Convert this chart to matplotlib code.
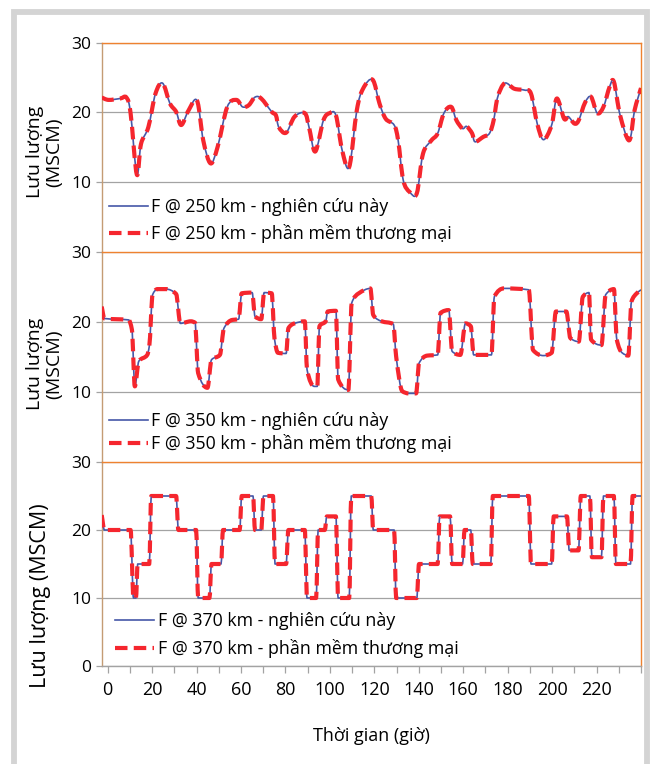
import matplotlib
matplotlib.use("Agg")
import matplotlib.pyplot as plt
from matplotlib.patches import Rectangle, PathPatch
from matplotlib.path import Path
from matplotlib.lines import Line2D

plt.rcParams['font.family'] = ['Open Sans', 'DejaVu Sans']

# ---------------- data ----------------
hours_250 = [-2.7, 0.4, 5.6, 8.4, 10.3, 13.1, 15.0, 18.3, 21.5, 24.7, 28.0, 30.8, 33.1,
             36.4, 40.2, 43.0, 46.3, 49.5, 53.8, 57.9, 60.7, 63.5, 66.3, 69.1, 73.8,
             75.7, 77.0, 80.3, 84.1, 88.7, 90.6, 93.4, 97.1, 99.9, 102.7, 105.5, 108.7,
             112.1, 114.9, 119.2, 122.3, 125.1, 128.9, 130.7, 133.0, 135.9, 139.1, 141.9,
             145.7, 148.5, 151.3, 154.6, 156.9, 159.7, 161.5, 164.0, 165.3, 169.0, 171.8,
             173.7, 175.5, 178.7, 183.0, 187.7, 190.5, 193.3, 196.1, 199.8, 202.1, 205.4,
             207.3, 210.1, 212.0, 214.8, 217.5, 220.3, 223.1, 225.9, 227.8, 230.6, 234.7,
             237.1, 240.0]
flow_250 = [22.15, 21.8, 22.0, 22.15, 19.9, 11.1, 15.5, 17.9, 22.7, 24.2, 21.3, 20.1, 18.2,
            20.3, 21.7, 16.0, 12.7, 15.1, 20.8, 21.8, 20.8, 21.05, 22.2, 22.0, 20.1,
            19.6, 17.9, 17.1, 19.4, 19.9, 17.9, 14.4, 18.9, 19.9, 19.6, 14.6, 12.2,
            20.3, 23.4, 24.7, 21.3, 19.1, 18.2, 16.0, 10.3, 8.6, 8.4, 14.1,
            16.0, 17.0, 19.9, 20.8, 18.9, 17.7, 18.0, 17.0, 15.8, 16.5, 17.0,
            18.9, 22.2, 24.2, 23.4, 23.2, 22.7, 18.4, 16.1, 18.2, 22.0, 19.1,
            19.4, 18.4, 18.9, 21.4, 22.25, 19.9, 20.8, 23.7, 24.4, 19.6, 16.0,
            20.3, 23.5]

hours_350 = [-2.7, -1.5, 3.8, 9.4, 10.9, 12.2, 14.0, 17.8, 18.7, 20.2, 22.4, 26.2, 30.8,
             32.7, 37.4, 39.3, 40.7, 44.9, 46.7, 50.5, 52.3, 56.1, 58.9, 60.3, 65.0, 66.3,
             69.1, 70.4, 73.8, 75.1, 76.6, 80.3, 81.3, 84.1, 88.7, 89.7, 93.0, 94.3, 95.3,
             98.1, 99.0, 102.7, 103.7, 108.3, 109.8, 113.0, 118.2, 119.5, 123.3, 128.5,
             129.8, 132.6, 135.4, 138.8, 140.1, 143.8, 148.5, 149.8, 153.5, 155.0, 158.7,
             161.0, 163.4, 164.7, 172.7, 174.0, 178.3, 189.5, 191.4, 196.1, 199.8, 201.7,
             206.4, 208.2, 212.0, 213.8, 216.6, 217.5, 222.2, 224.1, 227.8, 229.1, 231.5,
             234.3, 235.7, 238.1, 240.0]
flow_350 = [22.2, 20.5, 20.4, 20.3, 18.9, 10.8, 14.4, 15.3, 16.5, 23.9, 24.7, 24.7, 24.0,
            19.8, 20.1, 19.9, 12.7, 10.6, 14.6, 15.3, 19.1, 20.3, 20.4, 24.1, 24.2, 20.8,
            20.4, 24.2, 24.1, 17.5, 15.6, 15.5, 19.1, 19.8, 20.1, 13.2, 10.8, 10.8, 19.4,
            20.1, 21.5, 21.6, 11.8, 10.3, 22.7, 24.1, 24.8, 21.0, 20.1, 19.7,
            15.1, 10.1, 9.8, 9.8, 14.1, 15.2, 15.3, 21.3, 21.7, 15.8, 15.3,
            19.8, 19.4, 15.3, 15.3, 23.6, 24.8, 24.6, 16.0, 15.2, 15.6, 21.5,
            21.5, 17.7, 17.2, 23.6, 24.2, 17.5, 16.7, 23.9, 24.7, 17.5, 15.6,
            15.2, 22.9, 24.1, 24.6]

hours_370 = [-2.7, -1.5, 10.3, 11.6, 12.7, 13.5, 18.7, 19.6, 30.8, 31.8, 39.8, 40.7, 45.8,
             46.7, 51.0, 51.9, 59.4, 60.3, 65.4, 66.3, 69.1, 70.1, 74.4, 75.3, 80.3, 81.3,
             88.7, 89.7, 93.8, 94.7, 97.7, 98.6, 102.7, 103.7, 108.7, 109.6, 118.6, 119.5,
             128.9, 129.8, 139.1, 140.1, 148.5, 149.4, 154.1, 155.0, 159.7, 160.6, 163.4,
             164.3, 172.4, 173.3, 189.5, 190.5, 199.8, 200.7, 206.7, 207.7, 211.9, 212.9,
             217.0, 217.9, 222.2, 223.1, 227.8, 228.7, 235.3, 236.2, 240.0]
flow_370 = [22.2, 20, 20, 10, 10, 15, 15, 25, 25, 20, 20, 10, 10,
            15, 15, 20, 20, 25, 25, 20, 20, 25, 25, 15, 15, 20,
            20, 10, 10, 20, 20, 22, 22, 10, 10, 25, 25, 20,
            20, 10, 10, 15, 15, 22, 22, 15, 15, 20, 20,
            15, 15, 25, 25, 15, 15, 22, 22, 17, 17, 25,
            25, 16, 16, 25, 25, 15, 15, 25, 25]

series_hours = [hours_250, hours_350, hours_370]
series_flow = [flow_250, flow_350, flow_370]
smoothing = ["catmull", "monotone", "monotone"]   # Excel "smoothed line" look
labels_study = ["F @ 250 km - nghiên cứu này", "F @ 350 km - nghiên cứu này",
                "F @ 370 km - nghiên cứu này"]
labels_software = ["F @ 250 km - phần mềm thương mại", "F @ 350 km - phần mềm thương mại",
                   "F @ 370 km - phần mềm thương mại"]
ylabels = ["Lưu lượng\n(MSCM)", "Lưu lượng\n(MSCM)", "Lưu lượng (MSCM)"]
xlabel = "Thời gian (giờ)"
ytick_values = [[10, 20, 30], [10, 20, 30], [0, 10, 20, 30]]
xtick_values = list(range(0, 241, 10))
xtick_labels = [str(v) if (v % 20 == 0 and v <= 220) else "" for v in xtick_values]


def bezier_path(xs, ys, kind):
    """Cubic Bezier path through the data points (rendering style only)."""
    n = len(xs)
    if kind == "monotone":
        h = [xs[k + 1] - xs[k] for k in range(n - 1)]
        d = [(ys[k + 1] - ys[k]) / h[k] for k in range(n - 1)]
        m = [d[0]] + [0.0] * (n - 2) + [d[-1]]
        for k in range(1, n - 1):
            if d[k - 1] * d[k] > 0:
                w1, w2 = 2 * h[k] + h[k - 1], h[k] + 2 * h[k - 1]
                m[k] = (w1 + w2) / (w1 / d[k - 1] + w2 / d[k])
    verts = [(xs[0], ys[0])]
    codes = [Path.MOVETO]
    for k in range(n - 1):
        x1, y1, x2, y2 = xs[k], ys[k], xs[k + 1], ys[k + 1]
        if kind == "monotone":
            hk = x2 - x1
            c1 = (x1 + hk / 3, y1 + m[k] * hk / 3)
            c2 = (x2 - hk / 3, y2 - m[k + 1] * hk / 3)
        else:
            x0, y0 = xs[max(k - 1, 0)], ys[max(k - 1, 0)]
            x3, y3 = xs[min(k + 2, n - 1)], ys[min(k + 2, n - 1)]
            c1 = (x1 + (x2 - x0) / 6, y1 + (y2 - y0) / 6)
            c2 = (x2 - (x3 - x1) / 6, y2 - (y3 - y1) / 6)
        verts += [c1, c2, (x2, y2)]
        codes += [Path.CURVE4] * 3
    return Path(verts, codes)


# ---------------- style ----------------
W, H = 650, 764
BLUE = "#4658A8"
RED = "#F5262E"
ORANGE = "#EE8230"
TAN = "#C49C74"
GRAY = "#A3A3A3"
BLUE_LW, RED_LW = 1.2, 3.0
RED_LS = (0, (3.0, 1.5))

fig = plt.figure(figsize=(W / 100, H / 100), dpi=100)
fig.patch.set_facecolor("white")
fig.patches.append(Rectangle((13.5 / W, -0.1), (646.5 - 13.5) / W, 1.1 - 12 / H,
                             transform=fig.transFigure, fill=False,
                             edgecolor="#D4D4D4", linewidth=4.2, zorder=0))

panels_px = [(101.7, 42.7, 641, 252), (101.7, 252, 641, 462), (101.7, 462, 641, 666)]
legend_anchor = [(0.0128, 0.149), (0.0128, 0.1405), (0.025, 0.152)]
legend_spacing = [0.45, 0.22, 0.5]
# right edge (x) and centre (y) of each y label, in pixels
ylabel_pos = [(63, 152), (63, 364), (51, 596)]
ylabel_size = [14, 14, 15.5]

for i, (l, t, r, b) in enumerate(panels_px):
    ax = fig.add_axes([l / W, 1 - b / H, (r - l) / W, (b - t) / H])
    ax.set_facecolor("none")
    p = bezier_path(series_hours[i], series_flow[i], smoothing[i])
    ax.add_patch(PathPatch(p, fill=False, edgecolor=BLUE, lw=BLUE_LW, zorder=3,
                           capstyle="butt", joinstyle="round"))
    ax.add_patch(PathPatch(p, fill=False, edgecolor=RED, lw=RED_LW, linestyle=RED_LS,
                           zorder=4, capstyle="butt", joinstyle="round"))
    h_study = Line2D([], [], color=BLUE, lw=BLUE_LW)
    h_soft = Line2D([], [], color=RED, lw=RED_LW, linestyle=RED_LS)
    ax.set_xlim(-2.7, 240)
    ax.set_ylim(0, 30)
    ax.set_yticks(ytick_values[i])
    ax.grid(axis="y", color=GRAY, lw=0.9, zorder=1)
    ax.tick_params(axis="y", length=4.5, color=GRAY, width=0.9, labelsize=12.5, pad=3)
    for s in ("top", "right"):
        ax.spines[s].set_color(ORANGE)
        ax.spines[s].set_linewidth(1.0)
    ax.spines["left"].set_color(TAN)
    ax.spines["left"].set_linewidth(1.0)
    if i < 2:
        ax.spines["bottom"].set_visible(False)
        ax.tick_params(axis="x", bottom=False, labelbottom=False)
    else:
        ax.spines["bottom"].set_color(GRAY)
        ax.spines["bottom"].set_linewidth(1.0)
        ax.set_xticks(xtick_values)
        ax.set_xticklabels(xtick_labels)
        ax.tick_params(axis="x", length=5, color=GRAY, width=0.9, labelsize=13, pad=6)
        ax.set_xlabel(xlabel, fontsize=13, labelpad=20)
    ax.legend([h_study, h_soft], [labels_study[i], labels_software[i]],
              loc="center left", bbox_to_anchor=legend_anchor[i], frameon=False,
              borderpad=0, borderaxespad=0, handlelength=2.2, handletextpad=0.2,
              labelspacing=legend_spacing[i], fontsize=12.8)
    ax.set_ylabel(ylabels[i], fontsize=ylabel_size[i], linespacing=1.1)
    ax.yaxis.set_label_coords((ylabel_pos[i][0] - l) / (r - l),
                              (b - ylabel_pos[i][1]) / (b - t))

fig.savefig("out.png", dpi=100)
